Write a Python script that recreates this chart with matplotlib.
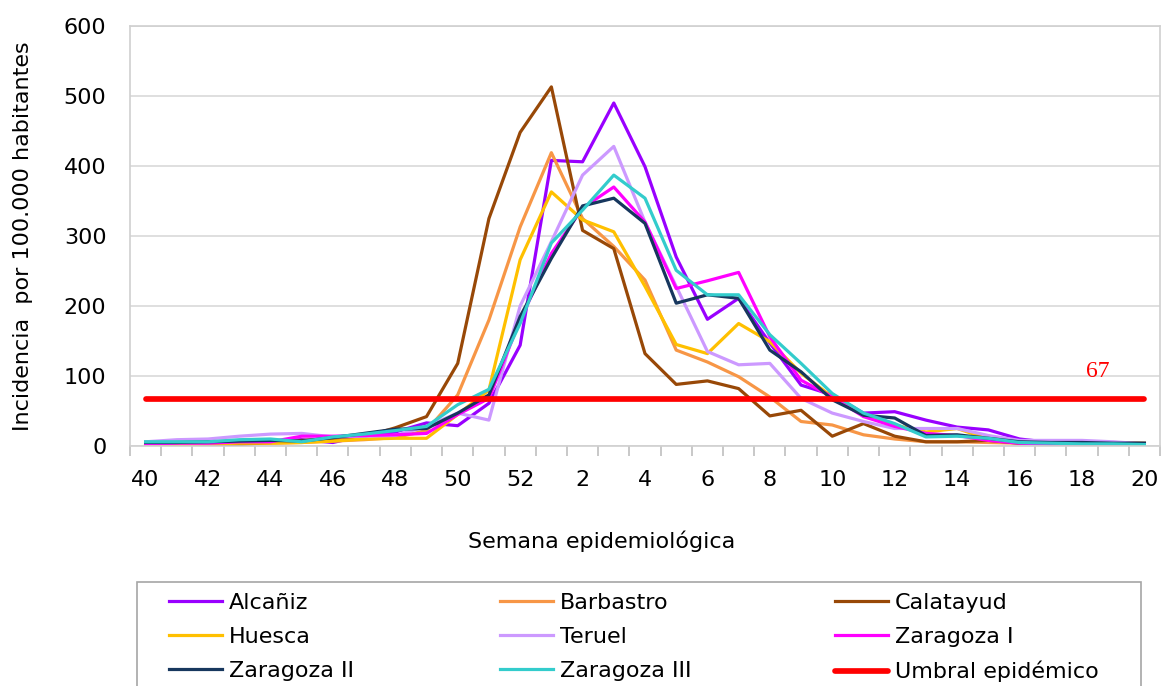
import matplotlib
matplotlib.use('Agg')
import matplotlib.pyplot as plt
from matplotlib.patches import Rectangle
import numpy as np

# semanas 40-52 y 1-20
weeks = list(range(40, 53)) + list(range(1, 21))

alcaniz = [5, 4, 5, 6, 7, 9, 5, 15, 20, 33, 29, 61, 144, 408, 406, 490, 399, 270, 181, 211,
           147, 87, 73, 47, 49, 37, 27, 23, 10, 5, 4, 3, 3]
barbastro = [4, 3, 3, 4, 4, 5, 7, 9, 12, 22, 73, 180, 313, 419, 325, 285, 237, 137, 120, 99,
             70, 35, 30, 16, 10, 6, 6, 5, 4, 3, 3, 3, 3]
calatayud = [4, 3, 3, 2, 5, 8, 10, 13, 26, 42, 118, 325, 448, 513, 308, 282, 132, 88, 93, 82,
             43, 51, 14, 32, 14, 6, 6, 8, 4, 4, 4, 5, 4]
huesca = [3, 2, 3, 4, 4, 5, 7, 10, 11, 11, 45, 80, 266, 363, 323, 306, 228, 145, 132, 175,
          149, 104, 70, 44, 30, 20, 25, 10, 6, 4, 3, 3, 3]
teruel = [6, 9, 10, 14, 17, 18, 13, 14, 15, 28, 47, 37, 200, 292, 387, 428, 320, 228, 135, 116,
          118, 68, 47, 35, 25, 25, 25, 15, 8, 8, 8, 6, 3]
zaragoza1 = [3, 4, 4, 6, 6, 14, 14, 15, 16, 18, 45, 68, 180, 275, 340, 370, 320, 225, 236, 248,
             156, 94, 70, 42, 28, 18, 15, 8, 4, 3, 3, 3, 3]
zaragoza2 = [5, 5, 6, 7, 8, 7, 12, 18, 24, 25, 47, 73, 185, 268, 343, 354, 318, 204, 216, 211,
             137, 106, 66, 44, 40, 15, 16, 11, 6, 5, 5, 4, 4]
zaragoza3 = [6, 6, 6, 9, 10, 6, 13, 17, 22, 28, 59, 81, 175, 290, 337, 387, 354, 251, 216, 216,
             159, 118, 75, 47, 32, 13, 14, 11, 5, 4, 3, 3, 2]
umbral = 67

series = [
    ('Alcañiz', alcaniz, '#9900FF'),
    ('Barbastro', barbastro, '#F79646'),
    ('Calatayud', calatayud, '#984807'),
    ('Huesca', huesca, '#FFC000'),
    ('Teruel', teruel, '#CC99FF'),
    ('Zaragoza I', zaragoza1, '#FF00FF'),
    ('Zaragoza II', zaragoza2, '#17375E'),
    ('Zaragoza III', zaragoza3, '#33CCCC'),
]

plt.rcParams['font.family'] = 'DejaVu Sans'

W, H = 1162, 686
fig = plt.figure(figsize=(W / 100, H / 100), dpi=100)
ax = fig.add_axes([130 / W, 1 - 446 / H, 1030 / W, 420 / H])

x = np.arange(len(weeks))
handles = {}
for name, vals, col in series:
    ln, = ax.plot(x, vals, color=col, lw=2.3, label=name)
    handles[name] = ln
ln, = ax.plot([x[0], x[-1]], [umbral, umbral], color='#FF0000', lw=4.1,
              solid_capstyle='round', label='Umbral epidémico')
handles['Umbral epidémico'] = ln
ax.annotate(str(umbral), xy=(30.5, umbral), xytext=(0, 12), textcoords='offset points',
            ha='center', va='bottom', color='#FF0000', fontsize=17, family='Liberation Serif')

ax.set_xlim(-0.5, len(weeks) - 0.5)
ax.set_ylim(0, 600)
ax.set_yticks(range(0, 601, 100))
ax.set_xticks(x[::2])
ax.set_xticklabels([str(w) for w in weeks[::2]])
ax.set_xticks(np.arange(-0.5, len(weeks), 1), minor=True)
ax.tick_params(axis='x', which='major', length=0, pad=17, labelsize=16)
ax.tick_params(axis='x', which='minor', length=7, color='#BFBFBF', width=1.2)
ax.tick_params(axis='y', length=0, pad=17, labelsize=16)
ax.grid(axis='y', color='#D9D9D9', lw=1.2)
ax.set_axisbelow(True)
for s in ax.spines.values():
    s.set_color('#D0D0D0')
    s.set_linewidth(1.2)

ax.set_ylabel('Incidencia  por 100.000 habitantes', fontsize=16)
ax.yaxis.set_label_coords(-0.094, 0.5)
ax.set_xlabel('Semana epidemiológica', fontsize=16)
ax.xaxis.set_label_coords(0.458, -0.2)

# leyenda en tres columnas dentro de un marco que sigue bajo el borde
columns = [['Alcañiz', 'Huesca', 'Zaragoza II'],
           ['Barbastro', 'Teruel', 'Zaragoza III'],
           ['Calatayud', 'Zaragoza I', 'Umbral epidémico']]
col_x = [169, 500, 835]
for names, cx in zip(columns, col_x):
    fig.legend([handles[k] for k in names], names, loc='upper left',
               bbox_to_anchor=(cx / W, 1 - 593 / H), frameon=False, fontsize=16,
               handlelength=2.4, handletextpad=0.3, labelspacing=0.63,
               borderpad=0, borderaxespad=0)
fig.patches.append(Rectangle((137 / W, -0.1), 1004 / W, 0.1 + (H - 582) / H,
                             transform=fig.transFigure, fill=False,
                             edgecolor='#A6A6A6', lw=1.2))

fig.savefig('out.png', dpi=100)
